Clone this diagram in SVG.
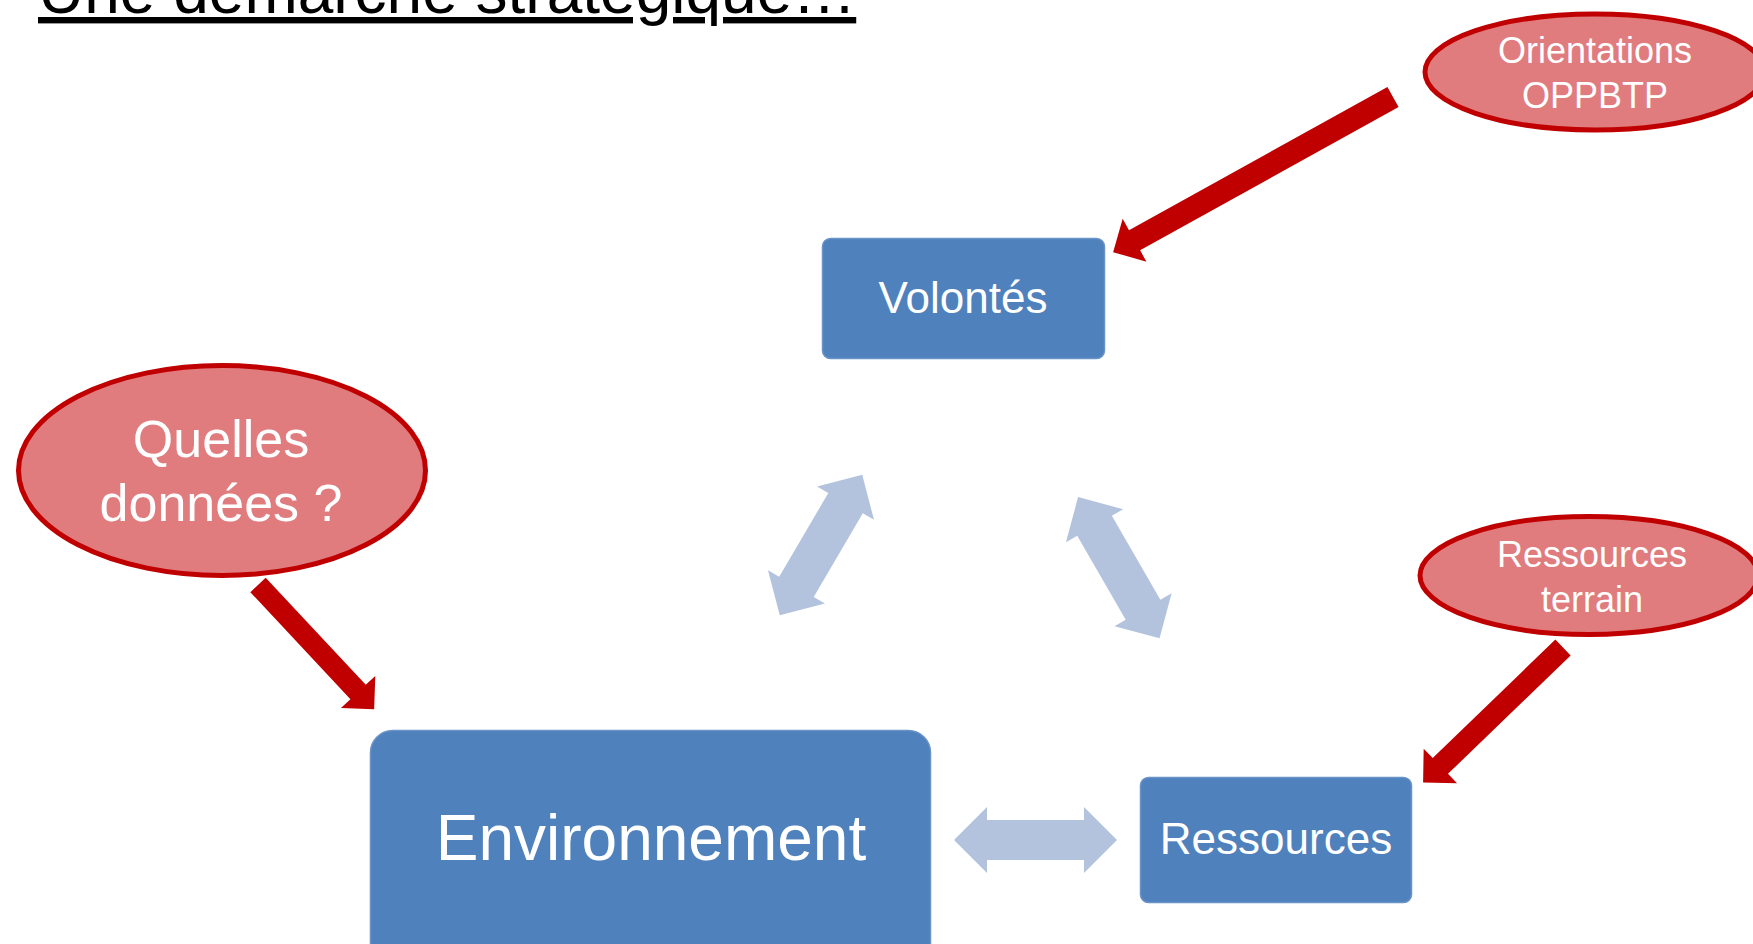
<svg xmlns="http://www.w3.org/2000/svg" xmlns:xlink="http://www.w3.org/1999/xlink" width="1753" height="944" viewBox="0 0 1753 944">
  <style>
    .box { fill: #4F81BD; stroke: #6A93C8; stroke-width: 1.5; }
    .bubble { fill: #E07B7E; stroke: #C00000; stroke-width: 5; }
    .w { fill: #FFFFFF; font-family: "Liberation Sans", Arial, sans-serif; text-anchor: middle; }
    .red { fill: #C00000; }
    .dbl { fill: #B3C3DE; }
    .title { fill: #000000; font-family: "Liberation Sans", Arial, sans-serif; font-size: 64px; text-decoration: underline; }
  </style>
  <defs>
    <polygon id="dblarrow" points="-81.5,0 -48.5,-33 -48.5,-20 48.5,-20 48.5,-33 81.5,0 48.5,33 48.5,20 -48.5,20 -48.5,33"/>
  </defs>
  <rect width="1753" height="944" fill="#FFFFFF"/>

  <text class="title" x="38" y="13">Une démarche stratégique…</text>

  <g id="connectors">
    <polygon class="red" transform="translate(258,585) rotate(46.9)" points="0,-10.5 146.5,-10.5 146.5,-23.5 170,0 146.5,23.5 146.5,10.5 0,10.5"/>
    <polygon class="red" transform="translate(1393,97) rotate(151)" points="0,-11.5 295.5,-11.5 295.5,-24.5 320,0 295.5,24.5 295.5,11.5 0,11.5"/>
    <polygon class="red" transform="translate(1563,647.5) rotate(136)" points="0,-11 170.5,-11 170.5,-24 194.5,0 170.5,24 170.5,11 0,11"/>
    <use xlink:href="#dblarrow" class="dbl" transform="translate(1035.5,840)"/>
    <use xlink:href="#dblarrow" class="dbl" transform="translate(821,545) rotate(-59.6)"/>
    <use xlink:href="#dblarrow" class="dbl" transform="translate(1118.8,567.7) rotate(60)"/>
  </g>

  <g id="volontes">
    <rect class="box" x="822.5" y="238.5" width="282" height="120" rx="8"/>
    <text class="w" x="963" y="313" font-size="44">Volontés</text>
  </g>

  <g id="environnement">
    <rect class="box" x="370.5" y="730.5" width="560" height="240" rx="22"/>
    <text class="w" x="651" y="860" font-size="64">Environnement</text>
  </g>

  <g id="ressources">
    <rect class="box" x="1140.5" y="777.5" width="271" height="125" rx="8"/>
    <text class="w" x="1276" y="854" font-size="44">Ressources</text>
  </g>

  <g id="quelles-donnees">
    <ellipse class="bubble" cx="222" cy="470.5" rx="203.5" ry="105"/>
    <text class="w" x="221" y="457" font-size="52">Quelles</text>
    <text class="w" x="221" y="521" font-size="52">données ?</text>
  </g>

  <g id="orientations-oppbtp">
    <ellipse class="bubble" cx="1595" cy="72" rx="170" ry="58"/>
    <text class="w" x="1595" y="63" font-size="36">Orientations</text>
    <text class="w" x="1595" y="108" font-size="36">OPPBTP</text>
  </g>

  <g id="ressources-terrain">
    <ellipse class="bubble" cx="1589" cy="575.5" rx="169" ry="59"/>
    <text class="w" x="1592" y="567" font-size="36">Ressources</text>
    <text class="w" x="1592" y="612" font-size="36">terrain</text>
  </g>
</svg>
